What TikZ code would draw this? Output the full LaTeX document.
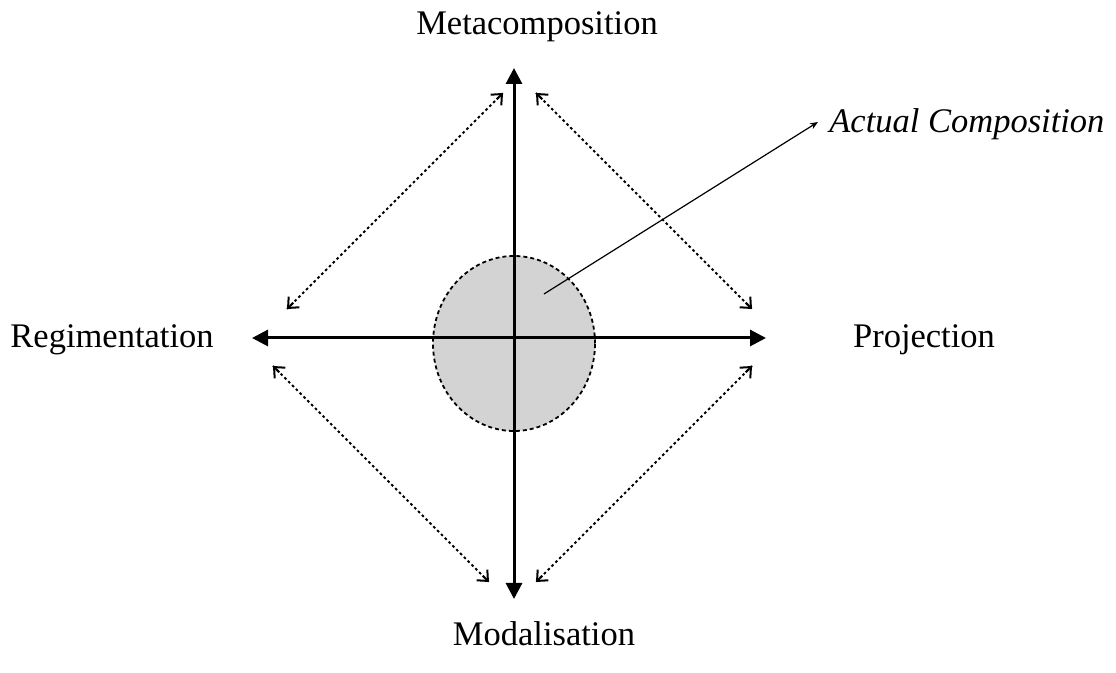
\documentclass[tikz,border=0pt]{standalone}
\usepackage{fontspec}
\setmainfont{Liberation Serif}
\usetikzlibrary{arrows.meta,shapes.geometric,calc}
\begin{document}
\begin{tikzpicture}[x=0.5pt,y=-0.5pt,
  axis/.style={line width=1.5pt,-{Triangle[length=8pt,width=8pt]}},
  dotline/.style={line width=1pt,dash pattern=on 1.3pt off 1.4pt},
  barbtip/.style={line width=1pt,solid,-{Straight Barb[length=4.2pt,width=7.5pt]}},
  pointer/.style={line width=0.6pt,-{Stealth[length=4pt,width=3.2pt]}},
  lbl/.style={inner sep=0pt,font=\fontsize{17.25}{20}\selectfont},
  core/.style={fill={rgb,255:red,211;green,211;blue,211},draw=black,line width=0.9pt,dash pattern=on 2pt off 1.5pt}]
\useasboundingbox (0,0) rectangle (1116,673);
% core ellipse
\node[core,ellipse,minimum width=81pt,minimum height=87.5pt,inner sep=0pt] (core) at (514,343.5) {};
% coordinates
\coordinate (O) at (514,338);
\coordinate (T) at (514,68);
\coordinate (B) at (514,599);
\coordinate (L) at (252,338);
\coordinate (R) at (766,338);
\coordinate (tla) at (287,309);
\coordinate (tlb) at (503,93);
\coordinate (tra) at (536,93);
\coordinate (trb) at (752,309);
\coordinate (bla) at (273,366);
\coordinate (blb) at (489,582);
\coordinate (bra) at (752,366);
\coordinate (brb) at (536,582);
\coordinate (ac0) at (544,294);
\coordinate (ac1) at (818,122);
% axes
\draw[axis] (O) -- (T);
\draw[axis] (O) -- (B);
\draw[axis] (O) -- (L);
\draw[axis] (O) -- (R);
% dotted double arrows: dotted shaft plus solid tips
\foreach \a/\b in {tla/tlb,tra/trb,bla/blb,bra/brb}{
  \draw[dotline] (\a) -- (\b);
  \draw[barbtip] ($(\a)!4.5pt!(\b)$) -- (\a);
  \draw[barbtip] ($(\b)!4.5pt!(\a)$) -- (\b);
}
% pointer
\draw[pointer] (ac0) -- (ac1);
% labels
\node[lbl,anchor=base] (meta) at (537,35) {Metacomposition};
\node[lbl,anchor=base] (mod) at (544,646) {Modalisation};
\node[lbl,anchor=base] (reg) at (112,348) {Regimentation};
\node[lbl,anchor=base] (proj) at (924,348) {Projection};
\node[lbl,anchor=base west] (act) at (829,133) {\itshape Actual Composition};
\end{tikzpicture}
\end{document}
